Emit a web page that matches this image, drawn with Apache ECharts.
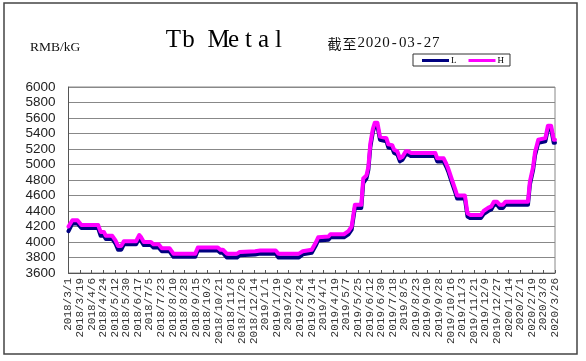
<!DOCTYPE html>
<html>
<head>
<meta charset="utf-8">
<script src="https://cdn.jsdelivr.net/npm/echarts@6/dist/echarts.min.js"></script>
<style>
html, body { margin: 0; padding: 0; background: #fff; }
#tb { width: 586px; height: 361px; }
</style>
</head>
<body>
<div id="tb"></div>
<script>
// price points (date where the price changes)
var priceDates = [
    '2018-03-01', '2018-03-07', '2018-03-15', '2018-03-21', '2018-04-16', '2018-04-20',
    '2018-04-25', '2018-04-28', '2018-05-08', '2018-05-13', '2018-05-17', '2018-05-22',
    '2018-05-26', '2018-06-14', '2018-06-19', '2018-06-22', '2018-06-26', '2018-07-07',
    '2018-07-11', '2018-07-19', '2018-07-24', '2018-08-05', '2018-08-11', '2018-09-14',
    '2018-09-18', '2018-10-19', '2018-10-23', '2018-10-27', '2018-11-02', '2018-11-18',
    '2018-11-22', '2018-12-16', '2018-12-24', '2019-01-17', '2019-01-21', '2019-02-22',
    '2019-02-28', '2019-03-14', '2019-03-20', '2019-03-24', '2019-04-09', '2019-04-12',
    '2019-05-03', '2019-05-10', '2019-05-15', '2019-05-20', '2019-05-30', '2019-06-02',
    '2019-06-07', '2019-06-10', '2019-06-13', '2019-06-17', '2019-06-20', '2019-06-24',
    '2019-06-28', '2019-07-08', '2019-07-11', '2019-07-17', '2019-07-20', '2019-07-25',
    '2019-07-29', '2019-08-02', '2019-08-07', '2019-08-11', '2019-08-15', '2019-09-22',
    '2019-09-25', '2019-10-05', '2019-10-09', '2019-10-12', '2019-10-18', '2019-10-23',
    '2019-10-26', '2019-11-07', '2019-11-11', '2019-11-15', '2019-12-02', '2019-12-06',
    '2019-12-13', '2019-12-18', '2019-12-22', '2019-12-27', '2019-12-31', '2020-01-05',
    '2020-01-09', '2020-02-13', '2020-02-16', '2020-02-21', '2020-02-24', '2020-02-29',
    '2020-03-11', '2020-03-15', '2020-03-20', '2020-03-24', '2020-03-26'
];
var highVals = [
    4200, 4280, 4280, 4220, 4220, 4130,
    4130, 4080, 4080, 4020, 3950, 3950,
    4010, 4010, 4090, 4060, 4000, 4000,
    3970, 3970, 3920, 3920, 3850, 3850,
    3930, 3930, 3900, 3900, 3850, 3850,
    3870, 3880, 3890, 3890, 3850, 3850,
    3880, 3900, 3990, 4060, 4070, 4100,
    4100, 4140, 4200, 4480, 4480, 4820,
    4860, 4970, 5270, 5460, 5540, 5540,
    5360, 5340, 5260, 5250, 5190, 5170,
    5080, 5100, 5170, 5170, 5150, 5150,
    5080, 5080, 5010, 4950, 4800, 4680,
    4600, 4600, 4370, 4350, 4350, 4400,
    4440, 4460, 4520, 4520, 4480, 4480,
    4520, 4520, 4780, 4970, 5160, 5320,
    5340, 5500, 5500, 5320, 5320
];
var lowVals = [
    4140, 4240, 4240, 4180, 4180, 4080,
    4080, 4040, 4040, 3980, 3900, 3900,
    3970, 3970, 4050, 4010, 3960, 3960,
    3930, 3930, 3880, 3880, 3810, 3810,
    3890, 3890, 3860, 3860, 3800, 3800,
    3830, 3840, 3850, 3850, 3800, 3800,
    3840, 3860, 3950, 4020, 4030, 4060,
    4060, 4100, 4160, 4440, 4440, 4760,
    4820, 4930, 5220, 5420, 5500, 5500,
    5320, 5300, 5220, 5210, 5150, 5130,
    5040, 5060, 5130, 5130, 5110, 5110,
    5040, 5040, 4970, 4910, 4760, 4640,
    4560, 4560, 4330, 4310, 4310, 4360,
    4400, 4420, 4480, 4480, 4440, 4440,
    4480, 4480, 4740, 4930, 5120, 5280,
    5300, 5460, 5460, 5280, 5280
];
// x labels, one every 18 days from 2018/3/1
var tickLabels = [
    '2018/3/1', '2018/3/19', '2018/4/6', '2018/4/24', '2018/5/12', '2018/5/30',
    '2018/6/17', '2018/7/5', '2018/7/23', '2018/8/10', '2018/8/28', '2018/9/15',
    '2018/10/3', '2018/10/21', '2018/11/8', '2018/11/26', '2018/12/14', '2019/1/1',
    '2019/1/19', '2019/2/6', '2019/2/24', '2019/3/14', '2019/4/1', '2019/4/19',
    '2019/5/7', '2019/5/25', '2019/6/12', '2019/6/30', '2019/7/18', '2019/8/5',
    '2019/8/23', '2019/9/10', '2019/9/28', '2019/10/16', '2019/11/3', '2019/11/21',
    '2019/12/9', '2019/12/27', '2020/1/14', '2020/2/1', '2020/2/19', '2020/3/8',
    '2020/3/26'
];
var startDay = Date.UTC(2018, 2, 1);
var stepDays = 18;

function dayIndex(s) {
    var p = s.split('-');
    return Math.round((Date.UTC(+p[0], +p[1] - 1, +p[2]) - startDay) / 86400000);
}

// fixed-pitch serif text: every char in its own box
function pitched(s) {
    var out = '';
    for (var k = 0; k < s.length; k++) {
        var ch = s.charAt(k);
        out += (ch.charCodeAt(0) > 255 ? '{w|' : '{c|') + ch + '}';
    }
    return out;
}

var lData = [];
var hData = [];
for (var i = 0; i < priceDates.length; i++) {
    var d = dayIndex(priceDates[i]);
    lData.push([d, lowVals[i]]);
    hData.push([d, highVals[i]]);
}

var tbChart = echarts.init(document.getElementById('tb'));
var option = {
    backgroundColor: '#FFFFFF',
    animation: false,
    title: [
        {
            text: pitched('Tb Metal'),
            left: 161,
            top: 23,
            textStyle: {
                fontWeight: 'normal',
                rich: {
                    c: { fontFamily: 'Liberation Serif', fontWeight: 'normal', fontSize: 25, width: 15, align: 'center', color: '#000' }
                }
            }
        },
        {
            text: pitched('截至2020-03-27'),
            left: 322,
            top: 31,
            textStyle: {
                fontWeight: 'normal',
                rich: {
                    w: { fontFamily: 'Noto Sans CJK SC', fontWeight: 'normal', fontSize: 14, width: 15, align: 'center', color: '#111' },
                    c: { fontFamily: 'Liberation Serif', fontWeight: 'normal', fontSize: 15, width: 8.3, align: 'center', color: '#111' }
                }
            }
        },
        {
            text: 'RMB/kG',
            left: 25,
            top: 35,
            textStyle: { fontFamily: 'Liberation Serif', fontWeight: 'normal', fontSize: 13.5, color: '#111' }
        }
    ],
    legend: {
        left: 413,
        top: 54,
        padding: [2, 6, 1, 9],
        itemGap: 12,
        itemWidth: 27,
        itemHeight: 3,
        icon: 'rect',
        borderColor: '#333',
        borderWidth: 1,
        textStyle: { fontFamily: 'Liberation Serif', fontSize: 9, color: '#000', padding: [0, 0, 0, -3] },
        data: ['L', 'H']
    },
    graphic: [
        {
            type: 'rect',
            shape: { x: 4, y: 3, width: 573, height: 351 },
            style: { fill: 'none', stroke: '#444', lineWidth: 1.5 },
            silent: true
        }
    ],
    grid: {
        left: 68.5,
        right: 31,
        top: 87,
        bottom: 88,
        show: true,
        borderColor: '#888',
        borderWidth: 1
    },
    xAxis: {
        type: 'value',
        min: 0,
        max: 756,
        interval: stepDays,
        axisLine: { lineStyle: { color: '#555' } },
        axisTick: { inside: true, length: 3, lineStyle: { color: '#555' } },
        splitLine: { show: false },
        axisLabel: {
            rotate: 90,
            margin: 5,
            fontFamily: 'Liberation Mono',
            fontSize: 11,
            color: '#333',
            showMaxLabel: true,
            formatter: function (v) {
                return tickLabels[Math.round(v / stepDays)] || '';
            }
        }
    },
    yAxis: {
        type: 'value',
        min: 3600,
        max: 6000,
        interval: 200,
        axisLine: { show: true, lineStyle: { color: '#555' } },
        axisTick: { show: false },
        splitLine: { lineStyle: { color: '#888', width: 1 } },
        axisLabel: {
            margin: 13,
            fontFamily: 'Liberation Sans',
            fontSize: 13.5,
            color: '#222',
            formatter: function (v) {
                return String(v);
            }
        }
    },
    series: [
        {
            name: 'L',
            type: 'line',
            data: lData,
            symbol: 'none',
            color: '#000080',
            lineStyle: { width: 4, color: '#000080', cap: 'round', join: 'round' }
        },
        {
            name: 'H',
            type: 'line',
            data: hData,
            symbol: 'none',
            color: '#FF00FF',
            lineStyle: { width: 4, color: '#FF00FF', cap: 'round', join: 'round' }
        }
    ]
};

tbChart.setOption(option);
window.addEventListener("resize", function () {
    tbChart.resize();
});
</script>
</body>
</html>
